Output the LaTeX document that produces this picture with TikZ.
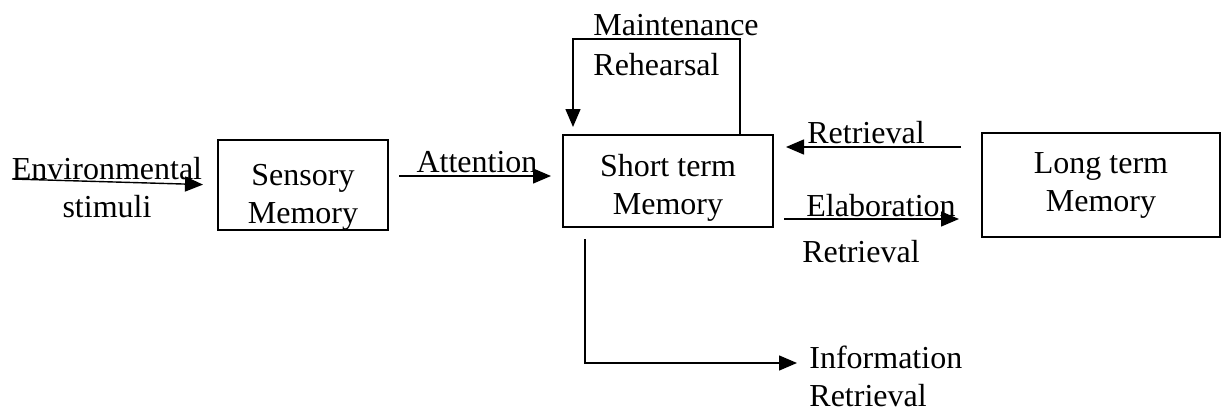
\documentclass[tikz,border=0pt]{standalone}
\usepackage{fontspec}
\setmainfont{Liberation Serif}
\usetikzlibrary{arrows.meta,positioning,calc}
\tikzset{
  store/.style={draw,line width=1pt,align=center,inner sep=0pt},
  flow/.style={-{Triangle[length=9pt,width=7.5pt]},line width=0.7pt},
  tag/.style={inner sep=0pt}
}

\begin{document}
\begin{tikzpicture}[x=0.5pt,y=-0.5pt,font=\fontsize{16}{19}\selectfont]
  \useasboundingbox (0,0) rectangle (1226,412);
  % the three stores (the rules push the text down a bit)
  \node[store,minimum width=85pt,minimum height=45pt] (sensory) at (303,185) {\rule{0pt}{23pt}Sensory\\Memory};
  \node[store,minimum width=105pt,minimum height=46pt] (stm) at (668,181) {\rule{0pt}{18pt}Short term\\Memory};
  \node[store,minimum width=119pt,minimum height=52pt] (ltm) at (1101,185) {Long term\\Memory};
  % labels
  \node[tag,align=center,anchor=north] (stimuli) at (107,157) {Environmental\\stimuli};
  \node[tag,anchor=base] (attention) at (477,172) {Attention};
  \node[tag,align=left,anchor=north west] (rehearsal) at (593,14) {Maintenance\\[1pt]Rehearsal};
  \node[tag,anchor=base] (fetch) at (866,143) {Retrieval};
  \node[tag,anchor=base] (elaborate) at (881,216) {Elaboration};
  \node[tag,anchor=base] (fetchback) at (861,262) {Retrieval};
  \node[tag,align=left,anchor=north west] (output) at (809,346) {Information\\Retrieval};
  % rows of the horizontal arrows
  \coordinate (envin) at (12,179);
  \coordinate (attrow) at (0,176);
  \coordinate (fetchrow) at (0,147);
  \coordinate (elabrow) at (0,219);
  % arrows
  \draw[flow,shorten >=7pt] (envin) -- (sensory.west);
  \draw[flow,shorten <=5pt,shorten >=5.5pt] (sensory.east |- attrow) -- (stm.west |- attrow);
  \draw[flow] ($(stm.north)+(72,0)$) -- ++(0,-95) -| ($(stm.north)+(-95,-7)$);
  \draw[flow,shorten <=10pt,shorten >=6pt] (ltm.west |- fetchrow) -- (stm.east |- fetchrow);
  \draw[flow,shorten <=5pt,shorten >=11pt] (stm.east |- elabrow) -- (ltm.west |- elabrow);
  \draw[flow] ($(stm.south)+(-83,11)$) |- ($(output.north west)+(-12,17)$);
\end{tikzpicture}
\end{document}
